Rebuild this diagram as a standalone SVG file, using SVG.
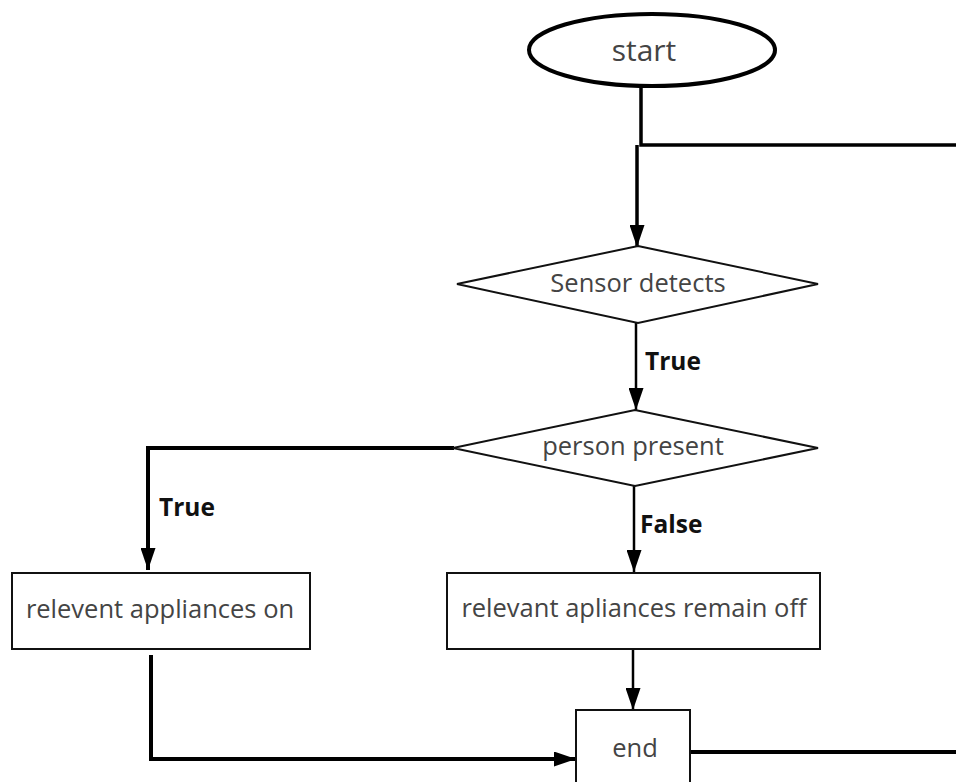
<svg xmlns="http://www.w3.org/2000/svg" width="956" height="782" viewBox="0 0 956 782">
<style>
.shape{fill:#fff;stroke:#111;stroke-width:2}
.lbl{font-family:"Open Sans","Liberation Sans",sans-serif;font-size:25.5px;fill:#444;text-anchor:middle}
.cond{font-family:"Open Sans","Liberation Sans",sans-serif;font-size:24.5px;font-weight:bold;fill:#111}
.c{fill:none;stroke:#000;stroke-linejoin:miter}
</style>
<defs>
<marker id="ah" viewBox="0 0 22 15" markerUnits="userSpaceOnUse" markerWidth="22" markerHeight="15" refX="22" refY="7.5" orient="auto">
<path d="M0,0 L22,7.5 L0,15 Z" fill="#000"/>
</marker>
</defs>
<rect width="956" height="782" fill="#fff"/>
<g id="connectors">
<path class="c" d="M641,88 V145 H956" stroke-width="3.5"/>
<path class="c" d="M637,145 V247" stroke-width="3.5" marker-end="url(#ah)"/>
<path class="c" d="M636,323 V410" stroke-width="2.5" marker-end="url(#ah)"/>
<path class="c" d="M454,448 H148 V570" stroke-width="4" marker-end="url(#ah)"/>
<path class="c" d="M634,486 V572" stroke-width="2.5" marker-end="url(#ah)"/>
<path class="c" d="M633,649 V710" stroke-width="2.5" marker-end="url(#ah)"/>
<path class="c" d="M151,655 V759 H576" stroke-width="4" marker-end="url(#ah)"/>
<path class="c" d="M690,752 H956" stroke-width="4"/>
</g>
<g id="labels">
<text class="cond" x="645" y="370">True</text>
<text class="cond" x="159" y="516">True</text>
<text class="cond" x="640" y="533">False</text>
</g>
<g id="start">
<ellipse cx="652" cy="50" rx="123" ry="36" fill="#fff" stroke="#000" stroke-width="4"/>
<text class="lbl" x="644" y="61" style="font-size:30px">start</text>
</g>
<g id="sensor">
<polygon class="shape" points="638,246 818,284 638,323 457,284"/>
<text class="lbl" x="638" y="292">Sensor detects</text>
</g>
<g id="person">
<polygon class="shape" points="635,410 818,448 635,486 453,448"/>
<text class="lbl" x="633" y="455">person present</text>
</g>
<g id="on">
<rect class="shape" x="12" y="573" width="298" height="76"/>
<text class="lbl" x="160" y="618">relevent appliances on</text>
</g>
<g id="off">
<rect class="shape" x="447" y="573" width="373" height="76"/>
<text class="lbl" x="634" y="617">relevant apliances remain off</text>
</g>
<g id="end">
<rect class="shape" x="576" y="710" width="114" height="80"/>
<text class="lbl" x="635" y="757">end</text>
</g>
</svg>
